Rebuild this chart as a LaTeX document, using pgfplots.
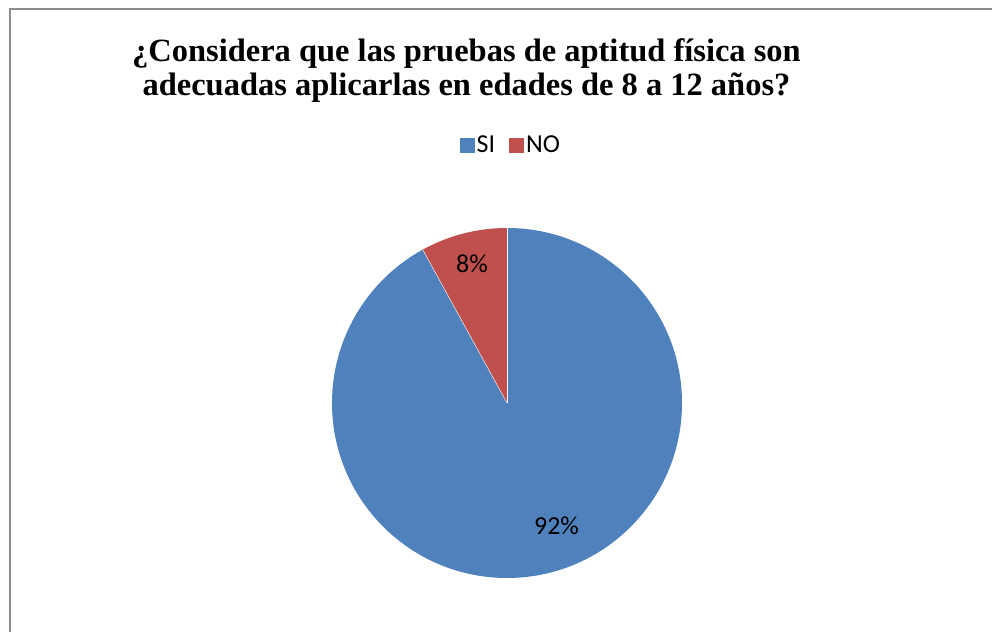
\documentclass[border=0pt]{standalone}
\usepackage{pgfplots}
\pgfplotsset{compat=1.18}
\usepackage{pgfplotstable}
\usepackage{fontspec}
\setmainfont{Liberation Serif}
\newfontfamily\calfont{Carlito}
\definecolor{siblue}{HTML}{4F81BD}
\definecolor{nored}{HTML}{C0504D}
\definecolor{framegray}{HTML}{8C8C8C}
\pgfplotstableread{
label value
SI 92
NO 8
}\piedata
\begin{document}
\begin{tikzpicture}[x=1bp,y=1bp]
\useasboundingbox (0,0) rectangle (992,632);
\fill[white] (0,0) rectangle (992,632);
\draw[framegray, line width=1.6bp] (10,0) -- (10,623) -- (993,623);
\node[font=\bfseries\fontsize{32.6}{35}\selectfont, anchor=base, inner sep=0pt] at (466.5,570) {¿Considera que las pruebas de aptitud física son};
\node[font=\bfseries\fontsize{32.6}{35}\selectfont, anchor=base, inner sep=0pt] at (466.5,536) {adecuadas aplicarlas en edades de 8 a 12 años?};
\begin{axis}[
  at={(507bp,229bp)}, anchor=center,
  width=350bp, height=350bp, scale only axis,
  xmin=-1, xmax=1, ymin=-1, ymax=1,
  hide axis,
  clip=false,
  legend columns=2,
  legend style={at={(0.511,1.237)}, anchor=center, draw=none, fill=none,
    font=\calfont\fontsize{26}{28}\selectfont,
    /tikz/every even column/.append style={column sep=12bp}},
  legend image code/.code={\fill[#1, draw=none] (0bp,-7.5bp) rectangle (15bp,7.5bp);},
]
\addlegendimage{fill=siblue}
\addlegendentry{SI}
\addlegendimage{fill=nored}
\addlegendentry{NO}
\pgfplotstablegetelem{0}{value}\of\piedata \let\vsi\pgfplotsretval
\pgfplotstablegetelem{1}{value}\of\piedata \let\vno\pgfplotsretval
\pgfmathsetmacro\aend{90-3.6*\vsi}
\pgfmathsetmacro\bend{\aend-3.6*\vno}
\fill[siblue] (axis cs:0,0) -- (axis cs:0,1) arc[start angle=90, end angle=\aend, radius=175bp] -- cycle;
\fill[nored] (axis cs:0,0) -- (axis cs:{cos(\aend)},{sin(\aend)}) arc[start angle=\aend, end angle=\bend, radius=175bp] -- cycle;
\draw[white, line width=0.4bp] (axis cs:0,0) -- (axis cs:0,1);
\draw[white, line width=0.4bp] (axis cs:0,0) -- (axis cs:{cos(\aend)},{sin(\aend)});
\node[font=\calfont\fontsize{26}{28}\selectfont] at (axis cs:-0.2,0.794) {\vno\%};
\node[font=\calfont\fontsize{26}{28}\selectfont] at (axis cs:0.283,-0.703) {\vsi\%};
\end{axis}
\end{tikzpicture}
\end{document}
